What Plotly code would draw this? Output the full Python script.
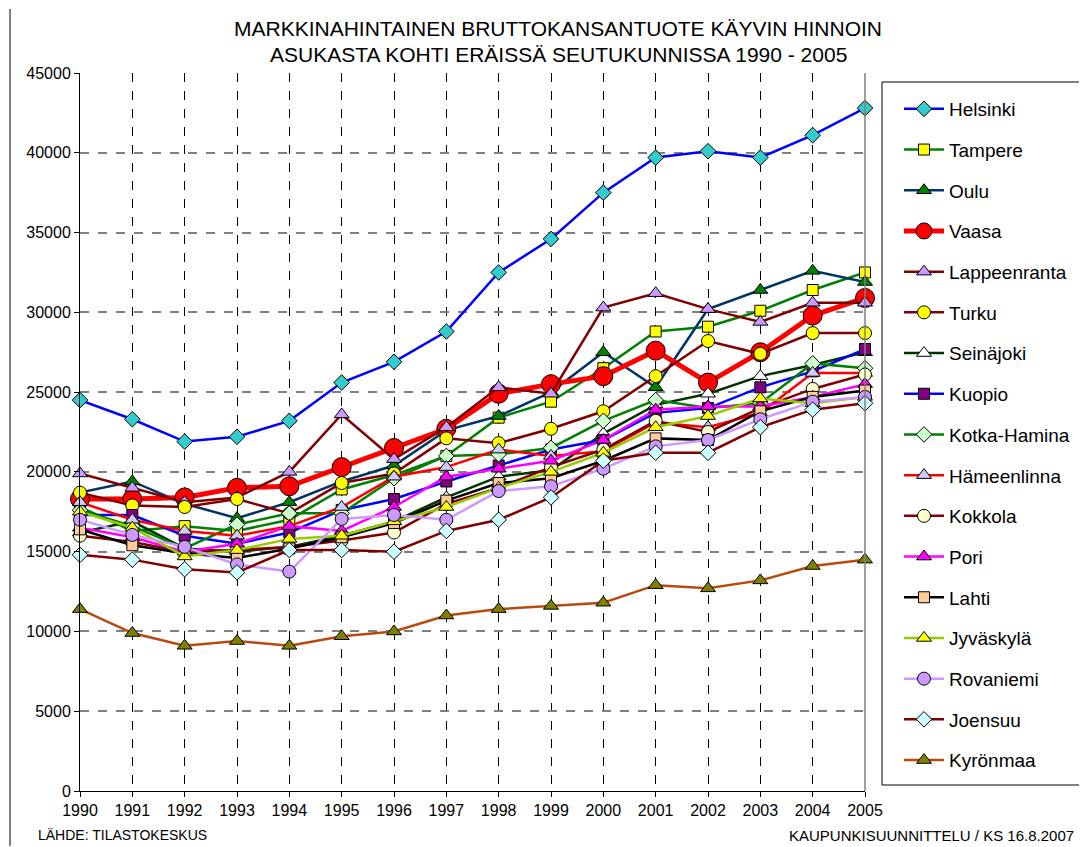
import plotly.graph_objects as go

years = list(range(1990, 2006))

helsinki = [24500, 23300, 21900, 22200, 23200, 25600, 26900, 28800, 32500, 34600, 37500, 39700, 40100, 39700, 41100, 42800]
tampere = [17800, 16300, 16600, 16300, 17000, 18900, 19800, 21000, 23400, 24400, 26500, 28800, 29100, 30100, 31400, 32500]
oulu = [18700, 19400, 18000, 17100, 18100, 19400, 20400, 22600, 23500, 25000, 27500, 25300, 30200, 31400, 32600, 31900]
vaasa = [18300, 18300, 18400, 19000, 19100, 20300, 21500, 22700, 24900, 25500, 26000, 27600, 25600, 27500, 29800, 30900]
lappeenranta = [19900, 19000, 18100, 18400, 20000, 23600, 20800, 22800, 25300, 24900, 30300, 31200, 30200, 29400, 30600, 30600]
turku = [18700, 17900, 17800, 18300, 17400, 19300, 19900, 22100, 21800, 22700, 23800, 26000, 28200, 27400, 28700, 28700]
seinajoki = [16200, 16900, 15200, 15000, 15300, 16000, 16900, 18400, 19700, 20100, 22400, 24200, 24900, 26000, 26700, 27500]
kuopio = [17300, 17300, 16000, 15500, 16200, 17600, 18300, 19400, 20400, 21400, 22000, 23700, 24000, 25300, 26300, 27700]
kotka = [17600, 16600, 15200, 16700, 17400, 17400, 19600, 21000, 21100, 21500, 23200, 24500, 24000, 24300, 26800, 26500]
hameenlinna = [18100, 17000, 16300, 16000, 16600, 17800, 19700, 20300, 21400, 21000, 21300, 23100, 22800, 23700, 26200, 26200]
kokkola = [16000, 15600, 15000, 15100, 15300, 15700, 16200, 18000, 19000, 20300, 21400, 23200, 22500, 24000, 25200, 26100]
pori = [16500, 15900, 15000, 15500, 16600, 16300, 17800, 19700, 20200, 20700, 22000, 23900, 24100, 24100, 24700, 25500]
lahti = [16400, 15400, 14900, 14600, 15200, 15900, 16800, 18200, 19300, 19600, 20700, 22100, 22000, 23800, 24700, 25100]
jyvaskyla = [17500, 16500, 14700, 15100, 15800, 16000, 16900, 17800, 19000, 20000, 21200, 22800, 23500, 24600, 24300, 24700]
rovaniemi = [17000, 16050, 15300, 14200, 13750, 17050, 17300, 17000, 18800, 19100, 20200, 21600, 22000, 23300, 24400, 24700]
joensuu = [14800, 14500, 13900, 13700, 15100, 15100, 15000, 16300, 17000, 18400, 20700, 21200, 21200, 22800, 23900, 24300]
kyronmaa = [11400, 9900, 9100, 9400, 9100, 9700, 10000, 11000, 11400, 11600, 11800, 12900, 12700, 13200, 14100, 14500]

series = [
    ("Helsinki", helsinki, "#0000FF", "diamond", "#33CCCC", 2.5, 12),
    ("Tampere", tampere, "#008000", "square", "#FFFF00", 2.5, 11),
    ("Oulu", oulu, "#003366", "triangle-up", "#008000", 2.5, 13),
    ("Vaasa", vaasa, "#FF0000", "circle", "#FF0000", 5, 19),
    ("Lappeenranta", lappeenranta, "#800000", "triangle-up", "#CC99FF", 2.5, 13),
    ("Turku", turku, "#800000", "circle", "#FFFF00", 2.5, 13),
    ("Seinäjoki", seinajoki, "#003300", "triangle-up", "#FFFFFF", 2.5, 13),
    ("Kuopio", kuopio, "#0000FF", "square", "#800080", 2.5, 11),
    ("Kotka-Hamina", kotka, "#008000", "diamond", "#CCFFCC", 2.5, 12),
    ("Hämeenlinna", hameenlinna, "#FF0000", "triangle-up", "#CCCCFF", 2.5, 13),
    ("Kokkola", kokkola, "#800000", "circle", "#FFFFCC", 2.5, 13),
    ("Pori", pori, "#FF00FF", "triangle-up", "#FF00FF", 2.5, 13),
    ("Lahti", lahti, "#000000", "square", "#FFCC99", 2.5, 11),
    ("Jyväskylä", jyvaskyla, "#99CC00", "triangle-up", "#FFFF00", 2.5, 13),
    ("Rovaniemi", rovaniemi, "#CC99FF", "circle", "#CC99FF", 2.5, 13),
    ("Joensuu", joensuu, "#800000", "diamond", "#CCFFFF", 2.5, 12),
    ("Kyrönmaa", kyronmaa, "#B84A10", "triangle-up", "#808000", 2.5, 13),
]

fig = go.Figure()
for i, (name, vals, lc, sym, mc, lw, ms) in enumerate(series):
    fig.add_trace(go.Scatter(
        x=years, y=vals, name=name, mode="lines+markers",
        line=dict(color=lc, width=lw),
        marker=dict(symbol=sym, color=mc, size=ms, line=dict(color="#000000", width=1)),
        cliponaxis=False, legendgroup=f"g{i}",
    ))

# page has an 8px body margin, so the figure is offset by 8px
W, H = 1079, 839
PX0, PX1, PY0, PY1 = 80 - 8, 865 - 8, 73 - 8, 791 - 8
PW, PH = PX1 - PX0, PY1 - PY0


def px(x):
    return (x - 8 - PX0) / PW


def py(y):
    return (PY1 - (y - 8)) / PH


fig.update_layout(
    width=W, height=H,
    margin=dict(l=PX0, r=W - PX1, t=PY0, b=H - PY1),
    paper_bgcolor="white", plot_bgcolor="white",
    font=dict(family="Arial, Liberation Sans, sans-serif", color="#000000", size=16),
    showlegend=True,
    legend=dict(
        x=px(899), xanchor="left", y=py(90), yanchor="top",
        borderwidth=0, bgcolor="rgba(0,0,0,0)",
        font=dict(size=19, family="Arial, Liberation Sans, sans-serif"),
        tracegroupgap=13, itemwidth=40,
    ),
    xaxis=dict(
        range=[1990, 2005], tickmode="array", tickvals=years,
        ticktext=[str(y) for y in years],
        showgrid=True, gridcolor="#000000", griddash="dash", gridwidth=1,
        showline=True, linecolor="#000000", linewidth=1,
        ticks="outside", ticklen=5, tickcolor="#000000",
        tickfont=dict(size=16), zeroline=False, mirror=False,
    ),
    yaxis=dict(
        range=[0, 45000], tickmode="array", tickvals=list(range(0, 45001, 5000)),
        ticktext=[str(v) for v in range(0, 45001, 5000)],
        showgrid=True, gridcolor="#808080", griddash="dash", gridwidth=1.5,
        showline=True, linecolor="#000000", linewidth=1,
        ticks="outside", ticklen=5, tickcolor="#000000",
        tickfont=dict(size=16), zeroline=False,
    ),
    annotations=[
        dict(text="MARKKINAHINTAINEN BRUTTOKANSANTUOTE KÄYVIN HINNOIN",
             xref="paper", yref="paper", x=px(558), y=py(28),
             xanchor="center", yanchor="middle", showarrow=False, font=dict(size=21)),
        dict(text="ASUKASTA KOHTI ERÄISSÄ SEUTUKUNNISSA 1990 - 2005",
             xref="paper", yref="paper", x=px(558), y=py(55),
             xanchor="center", yanchor="middle", showarrow=False, font=dict(size=21)),
        dict(text="LÄHDE: TILASTOKESKUS", xref="paper", yref="paper",
             x=px(36), y=py(835), xanchor="left", yanchor="middle",
             showarrow=False, font=dict(size=14)),
        dict(text="KAUPUNKISUUNNITTELU / KS 16.8.2007", xref="paper", yref="paper",
             x=px(1076), y=py(835), xanchor="right", yanchor="middle",
             showarrow=False, font=dict(size=15)),
    ],
    shapes=[
        dict(type="line", xref="paper", yref="paper", x0=1, x1=1, y0=0, y1=1,
             line=dict(color="#808080", width=1.5)),
        dict(type="line", xref="paper", yref="paper", x0=px(10), x1=px(10),
             y0=py(846), y1=py(9), line=dict(color="#000000", width=1)),
        dict(type="rect", xref="paper", yref="paper", x0=px(882), x1=px(1085),
             y0=py(785), y1=py(82), line=dict(color="#000000", width=1),
             fillcolor="rgba(0,0,0,0)", layer="above"),
    ],
)

fig.write_html("out.html")
